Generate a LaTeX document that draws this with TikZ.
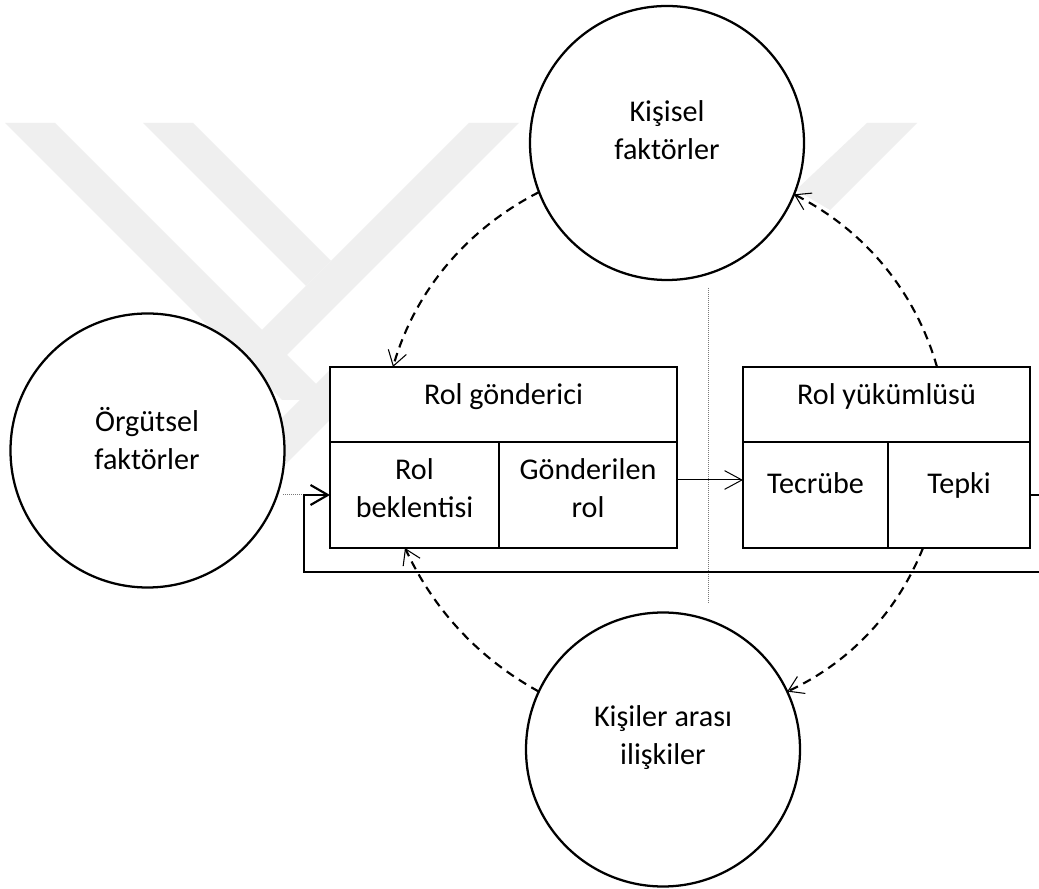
\documentclass[tikz,border=0pt]{standalone}
\usepackage{fontspec}
\setmainfont{Carlito}
\usetikzlibrary{arrows.meta,calc}
\definecolor{wmgray}{RGB}{239,239,239}
\definecolor{guidegray}{RGB}{120,120,120}
\begin{document}
\begin{tikzpicture}[x=0.75pt,y=0.75pt,
  bubble/.style={circle,draw,fill=white,line width=1.7pt,minimum size=205.5pt,inner sep=0pt,outer sep=0pt},
  cell/.style={rectangle,draw,fill=white,line width=1.7pt,inner sep=0pt,outer sep=0pt},
  txt/.style={align=center,inner sep=0pt,font=\fontsize{22.6}{28.5}\selectfont},
  dasharrow/.style={line width=1.6pt,dash pattern=on 6.5pt off 4.5pt,looseness=0.9,
    -{Straight Barb[length=11pt,width=14pt,line width=0.8pt]}},
  thinarrow/.style={line width=0.75pt,-{Straight Barb[length=13pt,width=14pt,line width=0.75pt]}},
  fbline/.style={line width=1.7pt,-{Straight Barb[length=13pt,width=15pt,line width=1.6pt]}},
  dotline/.style={guidegray,line width=0.75pt,dash pattern=on 0.75pt off 0.75pt},
  wm/.style={fill=wmgray,draw=none}]
\useasboundingbox (0,0) rectangle (1039,889);
\fill[white] (0,0) rectangle (1039,889);

% faint background emblem
\path[wm] (5,766) -- (55,766) -- (332,489) -- (282,489) -- cycle;
\path[wm] (143,766) -- (193,766) -- (331,628) -- (306,603) -- cycle;
\path[wm] (469,766) -- (519,766) -- (222,469) -- (172,469) -- cycle;
\path[wm] (867,766) -- (917,766) -- (830,679) -- (796,699) -- cycle;
\path[wm] (330,519) -- (380,519) -- (270,409) -- (220,409) -- cycle;

% factor circles
\node[bubble] (kf) at (667,746) {};
\node[bubble] (of) at (147.5,438.5) {};
\node[bubble] (ki) at (663,139.5) {};

% role sender block
\node[cell,minimum width=260.25pt,minimum height=56.25pt] (rg) at (503.5,484.5) {};
\node[cell,minimum width=126.75pt,minimum height=79.5pt] (rb) at (414.5,394) {};
\node[cell,minimum width=133.5pt,minimum height=79.5pt] (gr) at (588,394) {};

% role receiver block
\node[cell,minimum width=215.25pt,minimum height=56.25pt] (ry) at (886.5,484.5) {};
\node[cell,minimum width=108.75pt,minimum height=79.5pt] (tc) at (815.5,394) {};
\node[cell,minimum width=106.5pt,minimum height=79.5pt] (tp) at (959,394) {};

% dividing guide
\coordinate (gtop) at (708,601);
\coordinate (gbot) at (708,286);
\draw[dotline] (gtop) -- (gbot);

% feedback loop
\coordinate (fbR) at (1048,317);
\coordinate (fbL) at (304,317);
\coordinate (fbT) at (304,394);
\coordinate (dotS) at (283,394);
\draw[dotline] (dotS) -- (fbT);
\draw[fbline] (tp.east) -| (fbR) -- (fbL) |- (rb.west);

% sent role
\draw[thinarrow] ($(gr.east)+(0,15)$) -- ($(tc.west)+(0,15)$);

% influence arcs
\draw[dasharrow] (kf.201) to[out=207,in=74] ($(rg.north west)+(63,0)$);
\draw[dasharrow] ($(ry.north west)+(194,0)$) to[out=106,in=-27] (kf.-22);
\draw[dasharrow] ($(tp.south west)+(35,0)$) to[out=248,in=25] (ki.25);
\draw[dasharrow] (ki.155) to[out=151,in=-65] ($(rb.south west)+(75,0)$);

% labels
\node[txt] (t-kf) at (667,755.6) {\strut Kişisel\\\strut faktörler};
\node[txt] (t-of) at (147,446) {\strut Örgütsel\\\strut faktörler};
\node[txt] (t-ki) at (663,151) {\strut Kişiler arası\\\strut ilişkiler};
\node[txt] (t-rg) at (503.5,491.6) {\strut Rol gönderici};
\node[txt] (t-rb) at (414.5,397.6) {\strut Rol\\\strut beklentisi};
\node[txt] (t-gr) at (588,397.6) {\strut Gönderilen\\\strut rol};
\node[txt] (t-ry) at (886.5,491.6) {\strut Rol yükümlüsü};
\node[txt] (t-tc) at (815.5,403) {\strut Tecrübe};
\node[txt] (t-tp) at (959,403) {\strut Tepki};
\end{tikzpicture}
\end{document}
